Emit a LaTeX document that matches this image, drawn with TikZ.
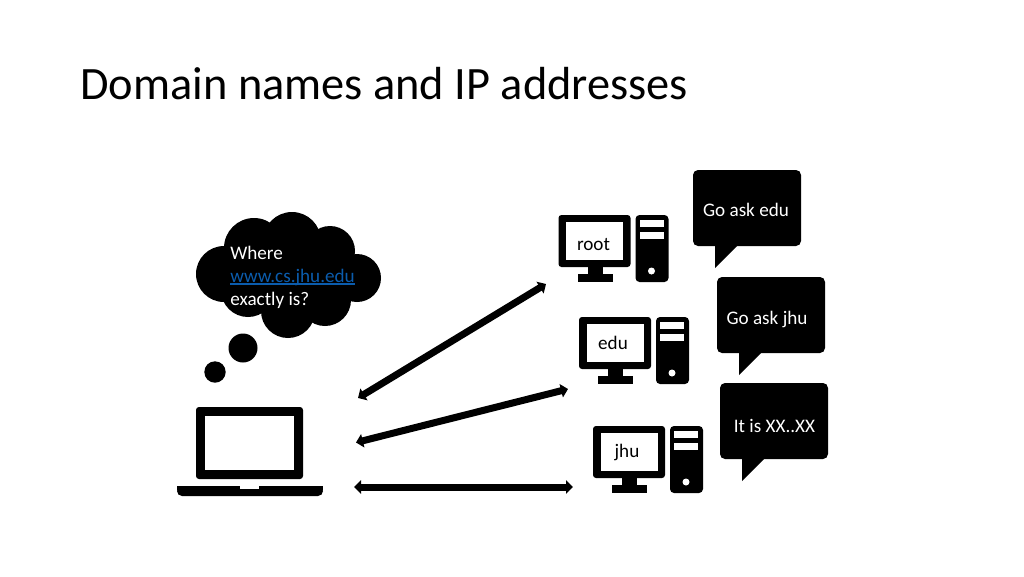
\documentclass[tikz,border=0pt]{standalone}
\usepackage{fontspec}
\setmainfont{Carlito}
\usetikzlibrary{arrows.meta}
\definecolor{linkblue}{HTML}{0B5CAD}

% text with a heavier rule under it
\newcommand{\thickunder}[1]{\setbox0=\hbox{#1}\rlap{\copy0}\rule[-1.3pt]{\wd0}{.8pt}}

% one computer, (#1,#2) is the top left corner of its monitor
\newcommand{\computer}[2]{
\begin{scope}[shift={(#1,#2)}]
\fill[rounded corners=.06cm] (0,0) rectangle (72,52);
\fill[white] (7.5,7) rectangle (64.5,45);
\fill (29,52) rectangle (44,60);
\fill (19,59) rectangle (54,67);
\fill[rounded corners=.08cm] (77,0) rectangle (110,67);
\fill[white] (81,5) rectangle (105,12);
\fill[white] (81,17) rectangle (105,24);
\fill[white] (93,56) circle (3.5);
\end{scope}
}

% one speech bubble, (#1,#2) is its top left corner
\newcommand{\bubble}[2]{
\begin{scope}[shift={(#1,#2)}]
\fill[rounded corners=.1cm] (0,0) rectangle (108,76);
\fill (22,70) -- (22,98) -- (44,76) -- (44,70) -- cycle;
\end{scope}
}

\tikzset{
  x=.02cm, y=-.02cm,
  label/.style={font=\fontsize{10.9}{12}\selectfont, inner sep=0pt, anchor=base},
  saying/.style={label, text=white},
  link/.style={line width=.14cm, {Triangle[width=.27cm,length=.14cm]}-{Triangle[width=.27cm,length=.14cm]}}
}

\begin{document}
\begin{tikzpicture}
\useasboundingbox (0,0) rectangle (1024,576);
\fill[white] (0,0) rectangle (1024,576);

\node[anchor=base west, inner sep=0pt, font=\fontsize{26.4}{30}\selectfont] (title) at (80,99) {Domain names and IP addresses};

% thought cloud
\foreach \cx/\cy/\cr in {224/274/28, 254/248/30, 292/241/29, 330/251/25, 357/278/24, 325/300/26, 288/311/27, 248/290/27, 290/275/40}
  \fill (\cx,\cy) circle (\cr);
\fill (243,348) circle (14.5);
\fill (215,372) circle (10.7);

\node[saying, anchor=base west] (where) at (230,259.5) {Where};
\node[saying, anchor=base west, text=linkblue] (url) at (230,282.5) {\thickunder{www.cs.jhu.edu}};
\node[saying, anchor=base west] (exactly) at (230,305.5) {exactly is?};

% laptop
\fill[rounded corners=.06cm] (196,407) rectangle (303,479);
\fill[white] (205,416) rectangle (294,470);
\fill[rounded corners=.1cm] (177,486) -- (177,496) -- (323,496) -- (323,486) -- cycle;
\fill (177,486) rectangle (323,490);
\fill[white] (240,486) rectangle (259,489);

% servers
\computer{558.5}{215}
\computer{579}{317}
\computer{593}{426}

\node[label] (root) at (593.5,250) {root};
\node[label] (edu)  at (613,349)   {edu};
\node[label] (jhu)  at (627,457.5)   {jhu};

% answers
\bubble{693}{170}
\bubble{717}{277}
\bubble{720}{383}

\node[saying] (askedu) at (746,216) {Go ask edu};
\node[saying] (askjhu) at (767,324) {Go ask jhu};
\node[saying] (itis)   at (774.5,432) {It is XX..XX};

\coordinate (L1) at (358,398);
\coordinate (L2) at (356,442.5);
\coordinate (L3) at (354,487);
\coordinate (S1) at (546,284);
\coordinate (S2) at (568,389);
\coordinate (S3) at (573,487);

\draw[link] (L1) -- (S1);
\draw[link] (L2) -- (S2);
\draw[link] (L3) -- (S3);
\end{tikzpicture}
\end{document}
